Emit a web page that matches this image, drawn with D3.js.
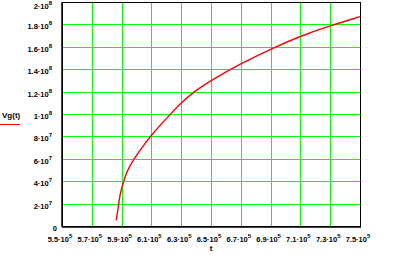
<!DOCTYPE html>
<html>
<head>
<meta charset="utf-8">
<script src="https://cdn.jsdelivr.net/npm/d3@7"></script>
<style>
  body { margin: 0; background: #fff; }
  svg text { font-family: "Liberation Sans", Arial, sans-serif; font-weight: bold; fill: #000; }
</style>
</head>
<body>
<div id="chart"></div>
<script>
// curve: t and Vg(t)
const tValues = [5.864e5, 5.881e5, 5.891e5, 5.914e5, 5.936e5, 5.983e5, 6.037e5, 6.091e5, 6.228e5,
                 6.30e5, 6.376e5, 6.50e5, 6.70e5, 6.90e5, 7.10e5, 7.30e5, 7.50e5];
const vgValues = [0.51e7, 2.0e7, 2.97e7, 4.0e7, 4.91e7, 6.0e7, 7.0e7, 8.0e7, 10.0e7,
                  11.0e7, 11.9e7, 13.0e7, 14.5e7, 15.8e7, 16.96e7, 17.89e7, 18.69e7];

// tick labels: [mantissa, exponent]
const xTicks = [[5.5, 5], [5.7, 5], [5.9, 5], [6.1, 5], [6.3, 5], [6.5, 5],
                [6.7, 5], [6.9, 5], [7.1, 5], [7.3, 5], [7.5, 5]];
const yTicks = [[0, 0], [2, 7], [4, 7], [6, 7], [8, 7], [1, 8], [1.2, 8],
                [1.4, 8], [1.6, 8], [1.8, 8], [2, 8]];

const width = 415, height = 268;
const plotL = 62, plotR = 360, plotT = 2, plotB = 226;

const svg = d3.select("#chart").append("svg")
    .attr("width", width)
    .attr("height", height);

const x = d3.scaleLinear().domain([5.5e5, 7.5e5]).range([plotL, plotR]);
const y = d3.scaleLinear().domain([0, 2e8]).range([plotB, plotT]);

const tickVal = d => d[0] * Math.pow(10, d[1]);

// ----- grid -----
svg.append("g").selectAll("line")
    .data(xTicks)
    .join("line")
    .attr("x1", d => Math.round(x(tickVal(d))) + 0.5)
    .attr("x2", d => Math.round(x(tickVal(d))) + 0.5)
    .attr("y1", plotT).attr("y2", plotB)
    .attr("stroke", "#00ff00").attr("stroke-width", 1);

svg.append("g").selectAll("line")
    .data(yTicks)
    .join("line")
    .attr("y1", d => Math.round(y(tickVal(d))) + 0.5)
    .attr("y2", d => Math.round(y(tickVal(d))) + 0.5)
    .attr("x1", plotL).attr("x2", plotR)
    .attr("stroke", "#00ff00").attr("stroke-width", 1);

// ----- frame -----
svg.append("rect")
    .attr("x", plotL + 0.5).attr("y", plotT + 0.5)
    .attr("width", plotR - plotL).attr("height", plotB - plotT)
    .attr("fill", "none").attr("stroke", "#000").attr("stroke-width", 1);
svg.append("line")
    .attr("x1", plotL).attr("x2", plotL).attr("y1", plotT).attr("y2", plotB + 1)
    .attr("stroke", "#000").attr("stroke-width", 1.5);
svg.append("line")
    .attr("x1", plotL).attr("x2", plotR + 1).attr("y1", plotB + 1).attr("y2", plotB + 1)
    .attr("stroke", "#000").attr("stroke-width", 1.5);

// ----- curve -----
const pts = tValues.map((t, i) => [t, vgValues[i]]);
const line = d3.line()
    .x(d => x(d[0]))
    .y(d => y(d[1]))
    .curve(d3.curveBasis);

svg.append("path")
    .datum(pts)
    .attr("d", line)
    .attr("fill", "none")
    .attr("stroke", "#ff0000")
    .attr("stroke-width", 1.4);

// ----- tick labels -----
function label(g, d) {
    if (d[0] === 0) {
        g.append("tspan").text("0");
        return;
    }
    g.append("tspan").text(d[0] + "\u00b710");
    g.append("tspan").attr("dy", -4).attr("font-size", 6).text(d[1]);
}

svg.append("g").selectAll("text")
    .data(yTicks)
    .join("text")
    .attr("x", d => d[0] === 0 ? 57 : 52)
    .attr("y", d => Math.max(y(tickVal(d)) + 5, 9))
    .attr("text-anchor", "end")
    .attr("font-size", 7.5)
    .each(function (d) { label(d3.select(this), d); });

svg.append("g").selectAll("text")
    .data(xTicks)
    .join("text")
    .attr("x", d => x(tickVal(d)) - 2)
    .attr("y", 242)
    .attr("text-anchor", "middle")
    .attr("font-size", 7.5)
    .each(function (d) { label(d3.select(this), d); });

// ----- axis titles + legend -----
svg.append("text")
    .attr("x", 2).attr("y", 118)
    .attr("font-size", 8)
    .text("Vg(t)");
svg.append("line")
    .attr("x1", 0).attr("x2", 20).attr("y1", 124.5).attr("y2", 124.5)
    .attr("stroke", "#ff0000").attr("stroke-width", 1);

svg.append("text")
    .attr("x", 211).attr("y", 251)
    .attr("text-anchor", "middle")
    .attr("font-size", 8)
    .text("t");
</script>
</body>
</html>
